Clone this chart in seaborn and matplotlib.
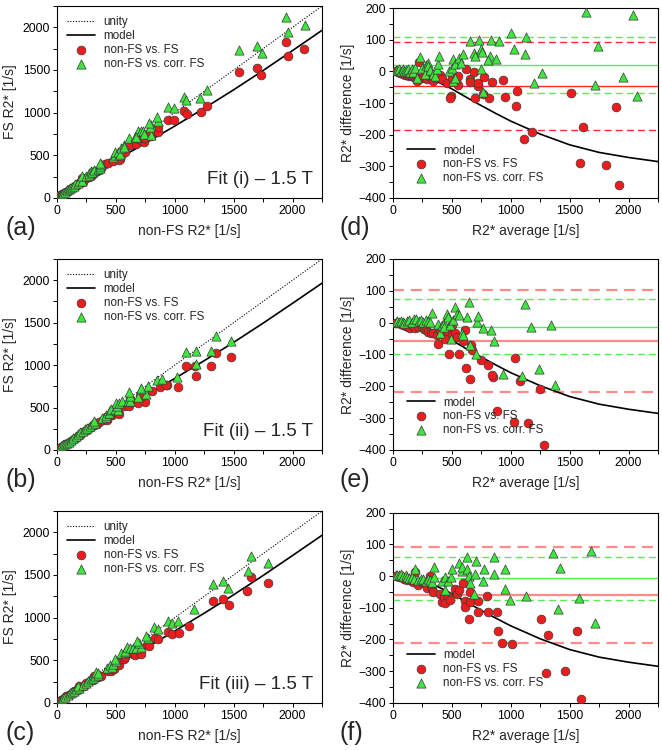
import numpy as np
import pandas as pd
import matplotlib
matplotlib.use("Agg")
import matplotlib.pyplot as plt
from matplotlib.ticker import MultipleLocator
import seaborn as sns

sns.set_theme(style="ticks")
plt.rcParams['font.family'] = ['Liberation Sans', 'DejaVu Sans']

# ---------------- data (Bland-Altman: average, difference) ----------------
# Fit (i)
i_red_avg = [30, 45, 60, 75, 90, 105, 120, 135, 150, 165, 180, 195, 205, 226, 240, 260, 274, 290, 305, 316,
             330, 344, 360, 400, 420, 457, 494, 485, 500, 533, 556, 556, 621, 655, 655, 692, 697, 720, 726,
             763, 777, 819, 844, 932, 952, 1051, 1045, 1116, 1178, 1515, 1610, 1590, 1810, 1890, 1920]
i_red_diff = [2, -3, -5, -6, -8, -10, -12, -14, -10, -16, -18, -22, -30, 28, -20, -17, -22, -25, -15, -5,
              -17, -31, -22, -12, -25, -36, -79, -84, -20, -31, -15, -42, 6, -24, -34, -3, -84, -45, -36,
              -72, -19, -83, -33, -28, -80, -62, -110, -213, -190, -67, -177, -289, -295, -114, -358]
i_grn_avg = [25, 40, 55, 70, 85, 100, 115, 130, 145, 160, 175, 190, 205, 231, 250, 270, 285, 302, 302, 320,
             340, 360, 373, 387, 390, 480, 500, 514, 514, 528, 528, 565, 593, 580, 658, 734, 688, 695, 750,
             760, 745, 765, 825, 810, 880, 830, 900, 1000, 1025, 1130, 1120, 1195, 1268, 1641, 2034, 1737,
             1718, 1949, 2068]
i_grn_diff = [5, 3, 8, 2, 6, 0, 4, 9, -2, 6, -3, 12, -20, 45, 10, -8, 20, 27, 17, 5,
              -8, -15, 8, 22, 50, 2, 11, 40, -31, 22, -20, 42, 54, 25, 95, 98, 58, 50, 70,
              62, 8, -65, 50, 35, 40, 100, 95, 122, 70, 110, 55, -38, -5, 187, 177, 81,
              -42, -19, -79]

# Fit (ii)
ii_red_avg = [30, 50, 70, 90, 110, 133, 150, 175, 190, 215, 246, 265, 280, 303, 325, 345, 373, 388, 402, 430,
              444, 458, 475, 487, 501, 501, 530, 544, 563, 597, 611, 620, 658, 667, 675, 750, 810, 850, 845,
              885, 1027, 1039, 1083, 1151, 1245, 1287]
ii_red_diff = [0, -2, -4, -6, -10, -15, -18, -12, -18, -15, -15, -20, -22, -28, -34, -31, -39, -66, -22, -33,
               -52, -26, -97, -13, -8, -39, -31, -44, -97, -58, -22, -142, -178, -71, -87, -117, -133, -170, -164,
               -277, -311, -110, -182, -315, -207, -384]
ii_grn_avg = [25, 40, 55, 70, 85, 100, 120, 140, 160, 180, 200, 220, 240, 260, 280, 300, 320, 331, 382, 402,
              416, 438, 438, 461, 470, 487, 496, 515, 530, 544, 566, 589, 600, 631, 648, 654, 703, 713, 721,
              764, 834, 863, 939, 1098, 1124, 1170, 1239, 1343, 1380]
ii_grn_diff = [3, 5, 2, 6, 3, 0, 5, 8, 2, 10, 13, 5, 7, 3, 8, 5, 2, 30, -4, -33,
               -8, 0, -13, 26, 19, -8, -52, 8, 50, 28, 24, -31, -39, 19, 65, -70, -98, 2, 21,
               -16, -23, -57, -160, -167, 60, -13, -145, -7, -196]

# Fit (iii)
iii_red_avg = [30, 50, 77, 100, 119, 140, 160, 175, 190, 218, 240, 275, 289, 317, 326, 330, 345, 402, 416, 431,
               445, 473, 487, 530, 544, 558, 592, 609, 614, 657, 657, 643, 722, 722, 798, 804, 883, 891, 928,
               1010, 1260, 1315, 1304, 1465, 1561, 1598]
iii_red_diff = [0, -3, -2, -8, -13, -10, -15, -18, 13, -28, -20, -23, -39, 1, -32, -42, -49, -55, -81, -65,
                -86, -62, -75, -40, -55, -45, -22, -79, -99, -49, -82, -137, -79, -113, -62, -113, -113, -174, -211,
                -216, -137, -186, -307, -300, -173, -389]
iii_grn_avg = [25, 40, 55, 70, 90, 110, 125, 140, 160, 180, 192, 215, 240, 260, 283, 297, 320, 335, 348, 348,
               419, 444, 444, 467, 495, 504, 566, 589, 589, 628, 631, 645, 659, 687, 701, 707, 764, 770, 857,
               863, 953, 953, 993, 1130, 1362, 1400, 1420, 1584, 1683, 1717]
iii_grn_diff = [5, 3, 2, 6, 0, 3, -2, -6, -4, -8, 21, -12, -10, -8, -15, -9, -12, -18, 29, -4,
                -16, -4, -44, -16, -4, 24, 40, 17, 29, 61, 24, 0, -21, -55, 6, 47, -16, 24, 59,
                6, 24, -42, -74, -62, 74, -104, 27, -70, 80, -147]

# model curves
model_x = [0, 125, 250, 375, 500, 625, 750, 875, 1000, 1250, 1500, 1750, 2000, 2250]
model_fs = [0, 120, 235, 343, 445, 543, 642, 742, 843, 1052, 1268, 1494, 1728, 1965]
model_diff = [0, -5, -15, -32, -55, -82, -108, -133, -157, -198, -232, -256, -272, -285]
unity_x = [0, 2250]

# mean / limits of agreement [red mean, red upper, red lower, green mean, green upper, green lower]
stats_i = [-46, 94, -184, 21, 110, -68]
stats_ii = [-57, 104, -217, -13, 74, -99]
stats_iii = [-60, 92, -211, -7, 61, -74]

fits = [("i", i_red_avg, i_red_diff, i_grn_avg, i_grn_diff, stats_i),
        ("ii", ii_red_avg, ii_red_diff, ii_grn_avg, ii_grn_diff, stats_ii),
        ("iii", iii_red_avg, iii_red_diff, iii_grn_avg, iii_grn_diff, stats_iii)]
panel_left = ["(a)", "(b)", "(c)"]
panel_right = ["(d)", "(e)", "(f)"]

RED = "#ee1c1c"
GRN = "#3ee63e"
EDGE = "#3a3a3a"
RED_LINE = ["#ff2a2a", "#ff8a8a", "#ff8a8a"]
RED_LW = [1.0, 1.6, 1.6]
GRN_LINE = "#55ee55"

fig = plt.figure(figsize=(6.62, 7.5), dpi=100)

left_rows = [(0.736, 0.256), (0.400, 0.2547), (0.0627, 0.256)]
right_rows = [(0.736, 0.2533), (0.400, 0.2547), (0.0631, 0.2531)]


def style_axes(ax):
    for s in ax.spines.values():
        s.set_linewidth(0.8)
        s.set_color("black")
    ax.tick_params(which="both", direction="out", length=3, width=0.7,
                   labelsize=8.8, pad=2, colors="black")


for k, (name, ra, rd, ga, gd, st) in enumerate(fits):
    ra = np.array(ra, float); rd = np.array(rd, float)
    ga = np.array(ga, float); gd = np.array(gd, float)
    red_df = pd.DataFrame({"nonfs": ra - rd / 2, "fs": ra + rd / 2, "avg": ra, "diff": rd})
    grn_df = pd.DataFrame({"nonfs": ga - gd / 2, "fs": ga + gd / 2, "avg": ga, "diff": gd})

    # ---------- left panel ----------
    b, h = left_rows[k]
    ax = fig.add_axes([0.0861, b, 0.4003, h])
    sns.lineplot(x=unity_x, y=unity_x, ax=ax, color="black", lw=0.8, linestyle=(0, (1, 1.5)), label="unity")
    sns.lineplot(x=model_x, y=model_fs, ax=ax, color="black", lw=1.2, label="model")
    sns.scatterplot(data=red_df, x="nonfs", y="fs", ax=ax, color=RED, marker="o", s=40,
                    edgecolor=EDGE, linewidth=0.5, label="non-FS vs. FS", zorder=3)
    sns.scatterplot(data=grn_df, x="nonfs", y="fs", ax=ax, color=GRN, marker="^", s=44,
                    edgecolor=EDGE, linewidth=0.5, label="non-FS vs. corr. FS", zorder=4)
    ax.set_xlim(0, 2250); ax.set_ylim(0, 2250)
    ax.xaxis.set_major_locator(MultipleLocator(500)); ax.xaxis.set_minor_locator(MultipleLocator(250))
    ax.yaxis.set_major_locator(MultipleLocator(500)); ax.yaxis.set_minor_locator(MultipleLocator(250))
    style_axes(ax)
    ax.set_xlabel("non-FS R2* [1/s]", fontsize=10, labelpad=5)
    ax.set_ylabel("FS R2* [1/s]", fontsize=10, labelpad=4)
    ax.legend(loc="upper left", frameon=False, fontsize=8.4, handlelength=2.4, handletextpad=0.7,
              labelspacing=0.15, borderaxespad=0.3, borderpad=0.6)
    ax.text(0.965, 0.05, f"Fit ({name}) \u2013 1.5 T", transform=ax.transAxes, ha="right", va="bottom",
            fontsize=13.5)
    fig.text(0.008, b - 0.04, panel_left[k], fontsize=18, ha="left", va="center")

    # ---------- right panel ----------
    b2, h2 = right_rows[k]
    ax2 = fig.add_axes([0.5932, b2, 0.4008, h2])
    ax2.axhline(st[0], color=RED_LINE[k], lw=RED_LW[k])
    ax2.axhline(st[1], color=RED_LINE[k], lw=RED_LW[k], linestyle=(0, (5, 3)))
    ax2.axhline(st[2], color=RED_LINE[k], lw=RED_LW[k], linestyle=(0, (5, 3)))
    ax2.axhline(st[3], color=GRN_LINE, lw=1.0)
    ax2.axhline(st[4], color=GRN_LINE, lw=1.0, linestyle=(0, (5, 3)))
    ax2.axhline(st[5], color=GRN_LINE, lw=1.0, linestyle=(0, (5, 3)))
    sns.lineplot(x=model_x, y=model_diff, ax=ax2, color="black", lw=1.2, label="model")
    sns.scatterplot(data=red_df, x="avg", y="diff", ax=ax2, color=RED, marker="o", s=40,
                    edgecolor=EDGE, linewidth=0.5, label="non-FS vs. FS", zorder=3)
    sns.scatterplot(data=grn_df, x="avg", y="diff", ax=ax2, color=GRN, marker="^", s=44,
                    edgecolor=EDGE, linewidth=0.5, label="non-FS vs. corr. FS", zorder=4)
    ax2.set_xlim(0, 2250); ax2.set_ylim(-400, 200)
    ax2.xaxis.set_major_locator(MultipleLocator(500)); ax2.xaxis.set_minor_locator(MultipleLocator(250))
    ax2.yaxis.set_major_locator(MultipleLocator(100)); ax2.yaxis.set_minor_locator(MultipleLocator(50))
    style_axes(ax2)
    ax2.set_xlabel("R2* average [1/s]", fontsize=10, labelpad=5)
    ax2.set_ylabel("R2* difference [1/s]", fontsize=10, labelpad=2)
    ax2.legend(loc="lower left", frameon=False, fontsize=8.4, handlelength=2.4, handletextpad=0.7,
               labelspacing=0.15, borderaxespad=0.3, borderpad=0.9)
    fig.text(0.513, b2 - 0.04, panel_right[k], fontsize=18, ha="left", va="center")

fig.savefig("out.png", dpi=100)
